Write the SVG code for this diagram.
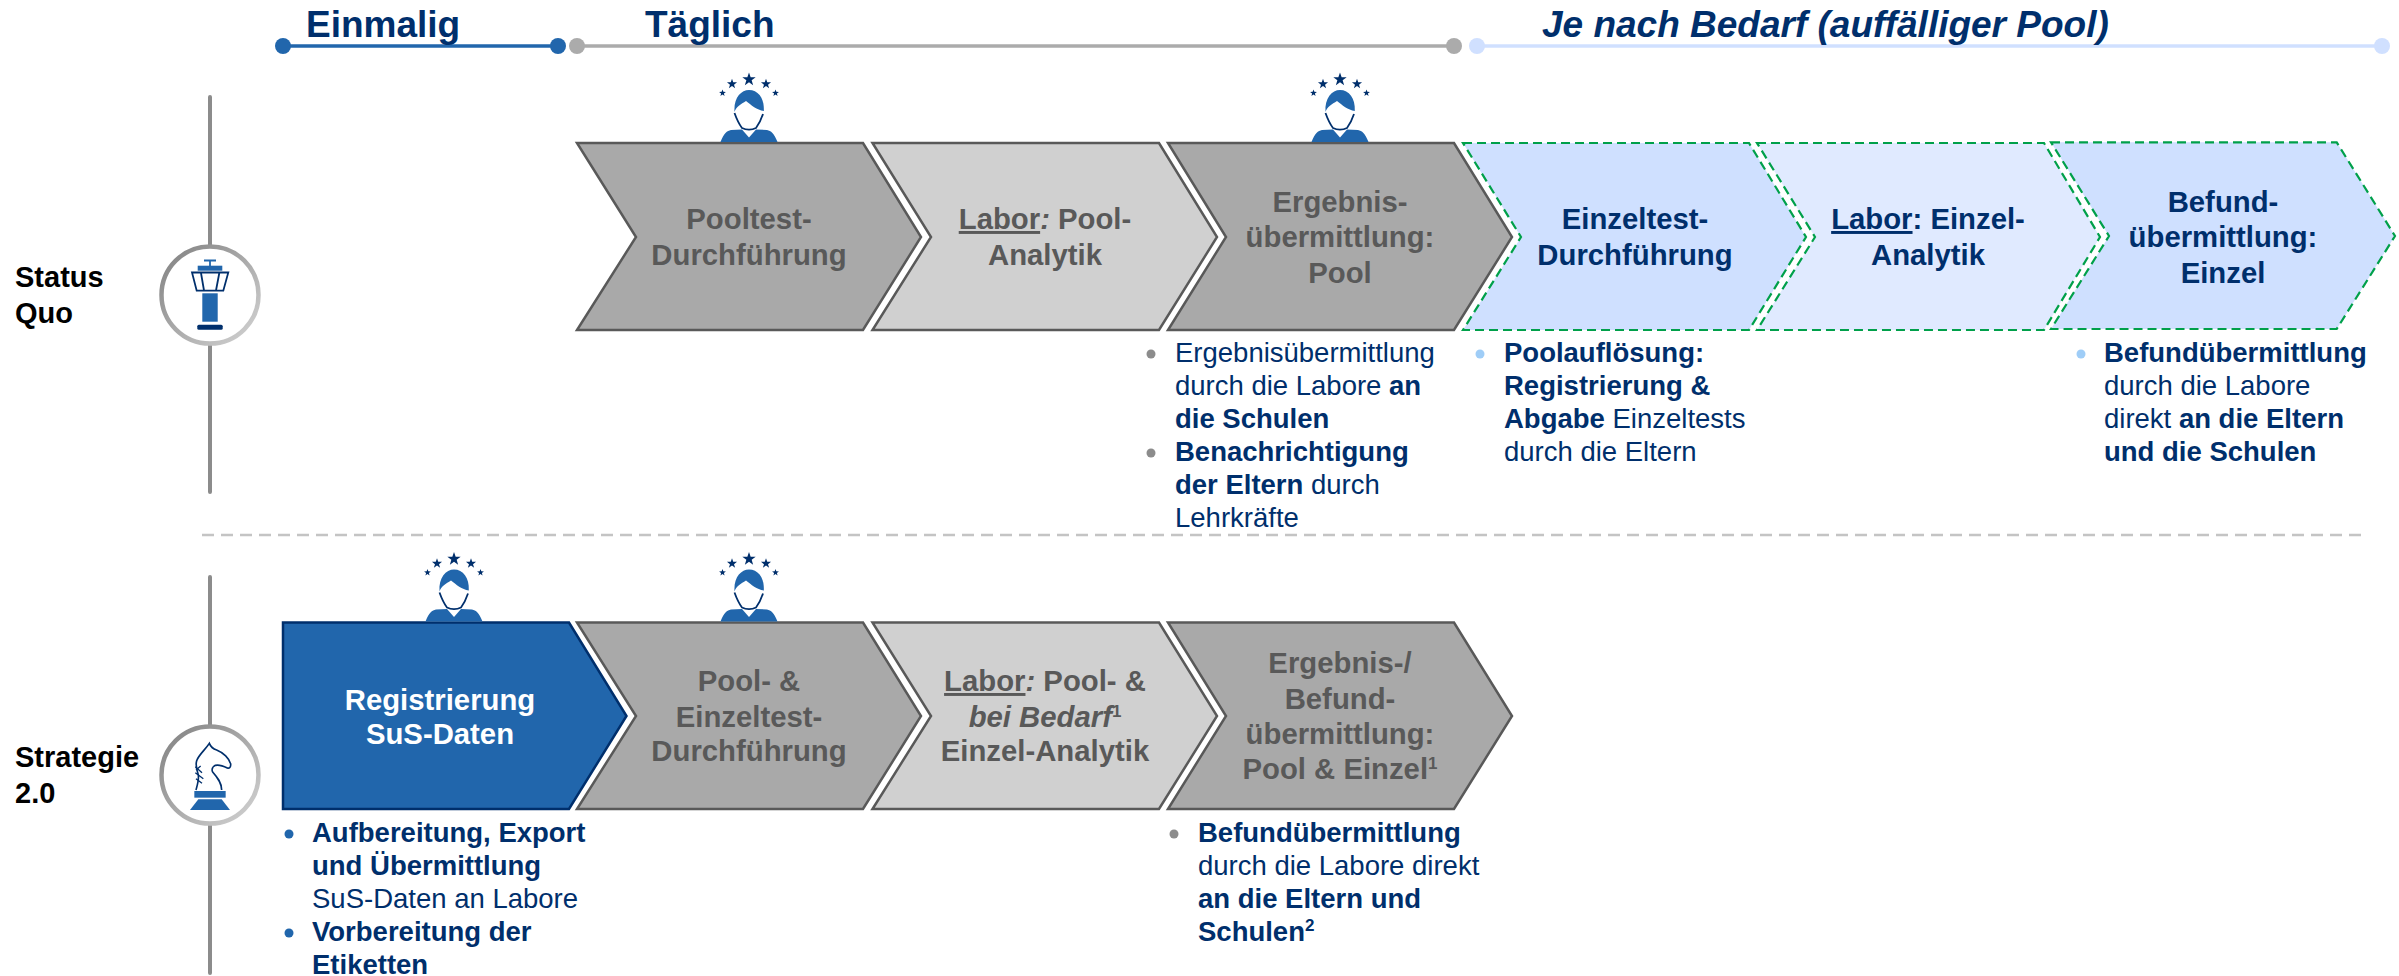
<svg xmlns="http://www.w3.org/2000/svg" xmlns:xlink="http://www.w3.org/1999/xlink" width="2399" height="976" viewBox="0 0 2399 976">
<style>
text{font-family:"Liberation Sans",Arial,sans-serif}
.h{font-size:37px;font-weight:700;fill:#002f6c}
.r{font-size:29px;font-weight:700;fill:#000}
.c{font-size:29.3px;font-weight:700;text-anchor:middle;fill:#595959}
.cb{fill:#002f6c}
.cw{fill:#fff}
.b{font-size:27.5px;fill:#002f6c}
.s{font-weight:700}
.g1{fill:#a9a9a9;stroke:#595959;stroke-width:2.5}
.g2{fill:#d0d0d0;stroke:#595959;stroke-width:2.5}
.l1{fill:#cfe0ff;stroke:#00a04a;stroke-width:2.2;stroke-dasharray:9 5}
.l2{fill:#e0eaff;stroke:#00a04a;stroke-width:2.2;stroke-dasharray:9 5}
.v{stroke:#8c8c8c;stroke-width:4;stroke-linecap:round;fill:none}
.ring{fill:#fff;stroke:url(#ringGrad);stroke-width:4.5}
.navy{fill:#002f6c}
.blue{fill:#2166ac}
.bg{fill:#8c8c8c}
.bl{fill:#9fcdf7}
</style>
<defs>
<linearGradient id="ringGrad" x1="0" y1="0" x2="1" y2="1"><stop offset="0" stop-color="#808080"/><stop offset="1" stop-color="#d4d4d4"/></linearGradient>
<polygon id="star" points="0,-1 0.235,-0.324 0.951,-0.309 0.38,0.124 0.588,0.809 0,0.4 -0.588,0.809 -0.38,0.124 -0.951,-0.309 -0.235,-0.324"/>
<g id="person">
<use xlink:href="#star" class="navy" transform="translate(0,-62.5) scale(7)"/>
<use xlink:href="#star" class="navy" transform="translate(-17,-58) scale(5.3)"/>
<use xlink:href="#star" class="navy" transform="translate(17,-58) scale(5.3)"/>
<use xlink:href="#star" class="navy" transform="translate(-26.5,-49) scale(3.6)"/>
<use xlink:href="#star" class="navy" transform="translate(26.5,-49) scale(3.6)"/>
<path class="blue" d="M-14.5,-30C-15.5,-44 -8,-52 0,-52C9,-52 15.5,-44 14.8,-31C8,-32 2,-37 -3,-41C-8,-38 -13,-35 -14.5,-30Z"/>
<path d="M-14.5,-29C-12,-22 -10,-18 -7,-14C-3,-12 3,-12 7,-14C10,-18 12,-22 14,-28" fill="none" stroke="#002f6c" stroke-width="1.8"/>
<path class="blue" d="M-28.5,0C-25,-9 -22,-11 -18,-12L-7,-12.5L0,-4.5L7,-12.5L18,-12C22,-11 25,-9 28.5,0Z"/>
</g>
</defs>
<rect width="2399" height="976" fill="#fff"/>
<g id="connectors">
<path class="v" d="M210,97V247M210,343V492M210,577V727M210,823V973"/>
<path d="M202,535H2366" stroke="#c4c4c4" stroke-width="2.5" stroke-dasharray="12 7" fill="none"/>
</g>
<g id="timeline-einmalig">
<path d="M283,46H558" stroke="#2166ac" stroke-width="3.5"/><circle class="blue" cx="283" cy="46" r="8"/><circle class="blue" cx="558" cy="46" r="8"/>
<text class="h" x="306" y="37">Einmalig</text>
</g>
<g id="timeline-taeglich">
<path d="M577,46H1454" stroke="#ababab" stroke-width="3.5"/><circle cx="577" cy="46" r="8" fill="#ababab"/><circle cx="1454" cy="46" r="8" fill="#ababab"/>
<text class="h" x="645" y="37">Täglich</text>
</g>
<g id="timeline-bedarf">
<path d="M1477,46H2382" stroke="#d0e0ff" stroke-width="3.5"/><circle cx="1477" cy="46" r="8" fill="#d0e0ff"/><circle cx="2382" cy="46" r="8" fill="#d0e0ff"/>
<text class="h" x="1542" y="37" font-style="italic">Je nach Bedarf (auffälliger Pool)</text>
</g>
<g id="label-status"><text class="r" x="15" y="287">Status</text><text class="r" x="15" y="323">Quo</text></g>
<g id="label-strategie"><text class="r" x="15" y="767">Strategie</text><text class="r" x="15" y="803">2.0</text></g>
<g id="icon-tower">
<circle class="ring" cx="210" cy="295" r="48.5"/>
<path d="M204,260.5H216M210,260.5V266" stroke="#2166ac" stroke-width="1.8" fill="none"/>
<rect class="blue" x="197.7" y="265.7" width="24.6" height="5"/>
<path d="M192,272.5H228.3L223.3,290.7H196.7ZM201,273L204,290.5M219.3,273L216,290.5" fill="none" stroke="#002f6c" stroke-width="1.8"/>
<rect class="blue" x="202.3" y="293.3" width="15.4" height="28.4"/>
<rect class="navy" x="197.3" y="324.7" width="25.4" height="5" rx="1.5"/>
</g>
<g id="icon-knight">
<circle class="ring" cx="210" cy="775" r="48.5"/>
<g transform="translate(170,730) scale(.3333)">
<path d="M78,180C82,165 87,150 85,135C80,120 76,105 80,92C86,75 105,60 118,40C122,50 128,56 140,60C160,68 178,85 182,102C183,112 178,116 172,114C160,108 148,103 136,106C128,110 124,118 128,126C142,142 155,158 155,180" fill="none" stroke="#002f6c" stroke-width="5"/>
<path d="M76,110L96,128M76,128L100,146M78,146L96,160M78,120L92,108" fill="none" stroke="#002f6c" stroke-width="4"/>
<rect class="blue" x="73" y="183" width="94" height="20"/>
<polygon class="blue" points="85,208 155,208 180,240 60,240"/>
</g>
</g>
<g id="node-pooltest">
<path class="g1" d="M577,143H863L921,237L863,330H577L636,237Z"/>
<text class="c" x="749" y="229">Pooltest-</text><text class="c" x="749" y="265">Durchführung</text>
<use xlink:href="#person" x="749" y="142"/>
</g>
<g id="node-labor-pool">
<path class="g2" d="M872.5,143H1159L1217,237L1159,330H872.5L931,237Z"/>
<text class="c" x="1045" y="229"><tspan text-decoration="underline">Labor</tspan><tspan font-style="italic">:</tspan> Pool-</text><text class="c" x="1045" y="265">Analytik</text>
</g>
<g id="node-ergebnis-pool">
<path class="g1" d="M1168,143H1454L1512,237L1454,330H1168L1226,237Z"/>
<text class="c" x="1340" y="212">Ergebnis-</text><text class="c" x="1340" y="247">übermittlung:</text><text class="c" x="1340" y="283">Pool</text>
<use xlink:href="#person" x="1340" y="142"/>
</g>
<g id="node-einzeltest">
<path class="l1" d="M1463,143H1749L1806,237L1749,330H1463L1521,237Z"/>
<text class="c cb" x="1635" y="229">Einzeltest-</text><text class="c cb" x="1635" y="265">Durchführung</text>
</g>
<g id="node-labor-einzel">
<path class="l2" d="M1757,143H2044L2100,237L2044,330H1757L1815,237Z"/>
<text class="c cb" x="1928" y="229"><tspan text-decoration="underline">Labor</tspan>: Einzel-</text><text class="c cb" x="1928" y="265">Analytik</text>
</g>
<g id="node-befund-einzel">
<path class="l1" d="M2051,142.3H2336.7L2395,236L2336.7,329H2051L2109,236Z"/>
<text class="c cb" x="2223" y="212">Befund-</text><text class="c cb" x="2223" y="247">übermittlung:</text><text class="c cb" x="2223" y="283">Einzel</text>
</g>
<g id="node-registrierung">
<path d="M283,622.5H569L626.5,716L569,809H283Z" fill="#2166ac" stroke="#002f6c" stroke-width="2.5"/>
<text class="c cw" x="440" y="710">Registrierung</text><text class="c cw" x="440" y="744">SuS-Daten</text>
<use xlink:href="#person" x="454" y="621.5"/>
</g>
<g id="node-pool-einzeltest">
<path class="g1" d="M577,622.5H863L921,716L863,809H577L636,716Z"/>
<text class="c" x="749" y="691">Pool- &amp;</text><text class="c" x="749" y="727">Einzeltest-</text><text class="c" x="749" y="761">Durchführung</text>
<use xlink:href="#person" x="749" y="621.5"/>
</g>
<g id="node-labor-pool-einzel">
<path class="g2" d="M872.5,622.5H1159L1217,716L1159,809H872.5L931,716Z"/>
<text class="c" x="1045" y="691"><tspan text-decoration="underline">Labor</tspan><tspan font-style="italic">:</tspan> Pool- &amp;</text><text class="c" x="1045" y="727"><tspan font-style="italic">bei Bedarf</tspan><tspan font-size="17" dy="-10">1</tspan></text><text class="c" x="1045" y="761">Einzel-Analytik</text>
</g>
<g id="node-ergebnis-befund">
<path class="g1" d="M1168,622.5H1454L1512,716L1454,809H1168L1226,716Z"/>
<text class="c" x="1340" y="673">Ergebnis-/</text><text class="c" x="1340" y="709">Befund-</text><text class="c" x="1340" y="744">übermittlung:</text><text class="c" x="1340" y="779">Pool &amp; Einzel<tspan font-size="17" dy="-10">1</tspan></text>
</g>
<g id="notes-ergebnis">
<circle class="bg" cx="1151" cy="354" r="4.5"/><circle class="bg" cx="1151" cy="453" r="4.5"/>
<text class="b" x="1175" y="362">Ergebnisübermittlung</text>
<text class="b" x="1175" y="395">durch die Labore <tspan class="s">an</tspan></text>
<text class="b s" x="1175" y="428">die Schulen</text>
<text class="b s" x="1175" y="461">Benachrichtigung</text>
<text class="b" x="1175" y="494"><tspan class="s">der Eltern</tspan> durch</text>
<text class="b" x="1175" y="527">Lehrkräfte</text>
</g>
<g id="notes-einzeltest">
<circle class="bl" cx="1480" cy="354" r="4.5"/>
<text class="b s" x="1504" y="362">Poolauflösung:</text>
<text class="b s" x="1504" y="395">Registrierung &amp;</text>
<text class="b" x="1504" y="428"><tspan class="s">Abgabe</tspan> Einzeltests</text>
<text class="b" x="1504" y="461">durch die Eltern</text>
</g>
<g id="notes-befund">
<circle class="bl" cx="2081" cy="354" r="4.5"/>
<text class="b s" x="2104" y="362">Befundübermittlung</text>
<text class="b" x="2104" y="395">durch die Labore</text>
<text class="b" x="2104" y="428">direkt <tspan class="s">an die Eltern</tspan></text>
<text class="b s" x="2104" y="461">und die Schulen</text>
</g>
<g id="notes-registrierung">
<circle class="blue" cx="289" cy="834" r="4.5"/><circle class="blue" cx="289" cy="933" r="4.5"/>
<text class="b s" x="312" y="842">Aufbereitung, Export</text>
<text class="b s" x="312" y="875">und Übermittlung</text>
<text class="b" x="312" y="908">SuS-Daten an Labore</text>
<text class="b s" x="312" y="941">Vorbereitung der</text>
<text class="b s" x="312" y="974">Etiketten</text>
</g>
<g id="notes-befund-2">
<circle class="bg" cx="1174" cy="834" r="4.5"/>
<text class="b s" x="1198" y="842">Befundübermittlung</text>
<text class="b" x="1198" y="875">durch die Labore direkt</text>
<text class="b s" x="1198" y="908">an die Eltern und</text>
<text class="b s" x="1198" y="941">Schulen<tspan font-size="17" dy="-10">2</tspan></text>
</g>
</svg>
